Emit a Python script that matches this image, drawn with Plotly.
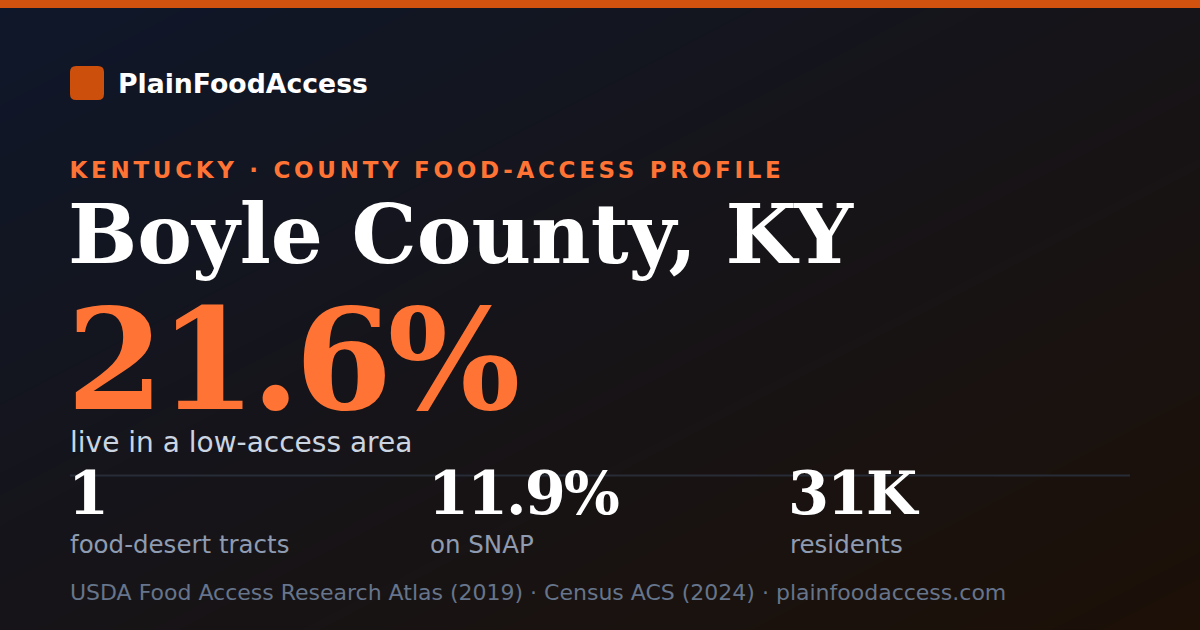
import json
import plotly.graph_objects as go

W, H = 1200, 630

brand = "PlainFoodAccess"
kicker = "KENTUCKY · COUNTY FOOD-ACCESS PROFILE"
county = "Boyle County, KY"
headline_value = "21.6%"
headline_label = "live in a low-access area"
stat_values = ["1", "11.9%", "31K"]
stat_labels = ["food-desert tracts", "on SNAP", "residents"]
source_note = "USDA Food Access Research Atlas (2019) · Census ACS (2024) · plainfoodaccess.com"

SANS = "DejaVu Sans"
SERIF = "DejaVu Serif"
ORANGE = "#ff7434"

# letter-spacing (px) per text; plotly has no such option, it is set on the svg below
spacing = {kicker: 3.7, headline_value: -5}
for v in stat_values:
    spacing[v] = -2

fig = go.Figure()

# diagonal background gradient, navy -> dark brown
fig.add_trace(go.Heatmap(
    x=[0, W], y=[0, H], z=[[0, 1], [1, 2]],
    zsmooth="best", showscale=False, hoverinfo="skip",
    colorscale=[[0, "#0f172a"], [0.5, "#161418"], [1, "#1c1007"]],
))

shapes = [
    dict(type="rect", x0=0, x1=W, y0=0, y1=8, fillcolor="#d1510e", line_width=0),
    dict(type="path",
         path="M76,66 L98,66 Q104,66 104,72 L104,94 Q104,100 98,100 L76,100 Q70,100 70,94 L70,72 Q70,66 76,66 Z",
         fillcolor="#cc4f0c", line_width=0),
    dict(type="line", x0=70, x1=1130, y0=475.5, y1=475.5, line=dict(color="#272c36", width=2)),
]

ann = []


def text(x, y, s, size, color, family=SANS, bold=False):
    # spacing grows the text around its centre, so shift it back to stay left aligned
    x = x + len(s) * spacing.get(s, 0) / 2
    ann.append(dict(x=x, y=y, text="<b>%s</b>" % s if bold else s, showarrow=False,
                    xanchor="left", yanchor="middle",
                    font=dict(size=size, color=color, family=family)))


text(116, 83, brand, 26.7, "#ffffff", bold=True)
text(68, 170, kicker, 23, ORANGE, bold=True)
text(66, 234, county, 82, "#ffffff", SERIF, bold=True)
text(64, 360, headline_value, 140, ORANGE, SERIF, bold=True)
text(68, 442, headline_label, 28, "#cbd5e1")
for i, (v, lab) in enumerate(zip(stat_values, stat_labels)):
    x = 70 + i * 360
    text(x - 4, 493, v, 59, "#ffffff", SERIF, bold=True)
    text(x - 2, 544, lab, 24.5, "#8e9bb0")
text(68, 592, source_note, 22, "#66758b")

fig.update_layout(
    width=W, height=H, margin=dict(l=0, r=0, t=0, b=0),
    paper_bgcolor="#121418", plot_bgcolor="#121418",
    xaxis=dict(range=[0, W], visible=False, fixedrange=True),
    yaxis=dict(range=[H, 0], visible=False, fixedrange=True),
    shapes=shapes, annotations=ann, showlegend=False,
)

post = """
document.body.style.margin = '0';
var gd = document.getElementById('{plot_id}');
var sp = %s;
function fixSpacing() {
  gd.querySelectorAll('.annotation-text').forEach(function (t) {
    if (sp[t.textContent] !== undefined) t.style.letterSpacing = sp[t.textContent] + 'px';
  });
}
fixSpacing();
setTimeout(fixSpacing, 50);
gd.on('plotly_afterplot', fixSpacing);
""" % json.dumps(spacing)

fig.write_html("out.html", config={"displayModeBar": False}, post_script=post)
